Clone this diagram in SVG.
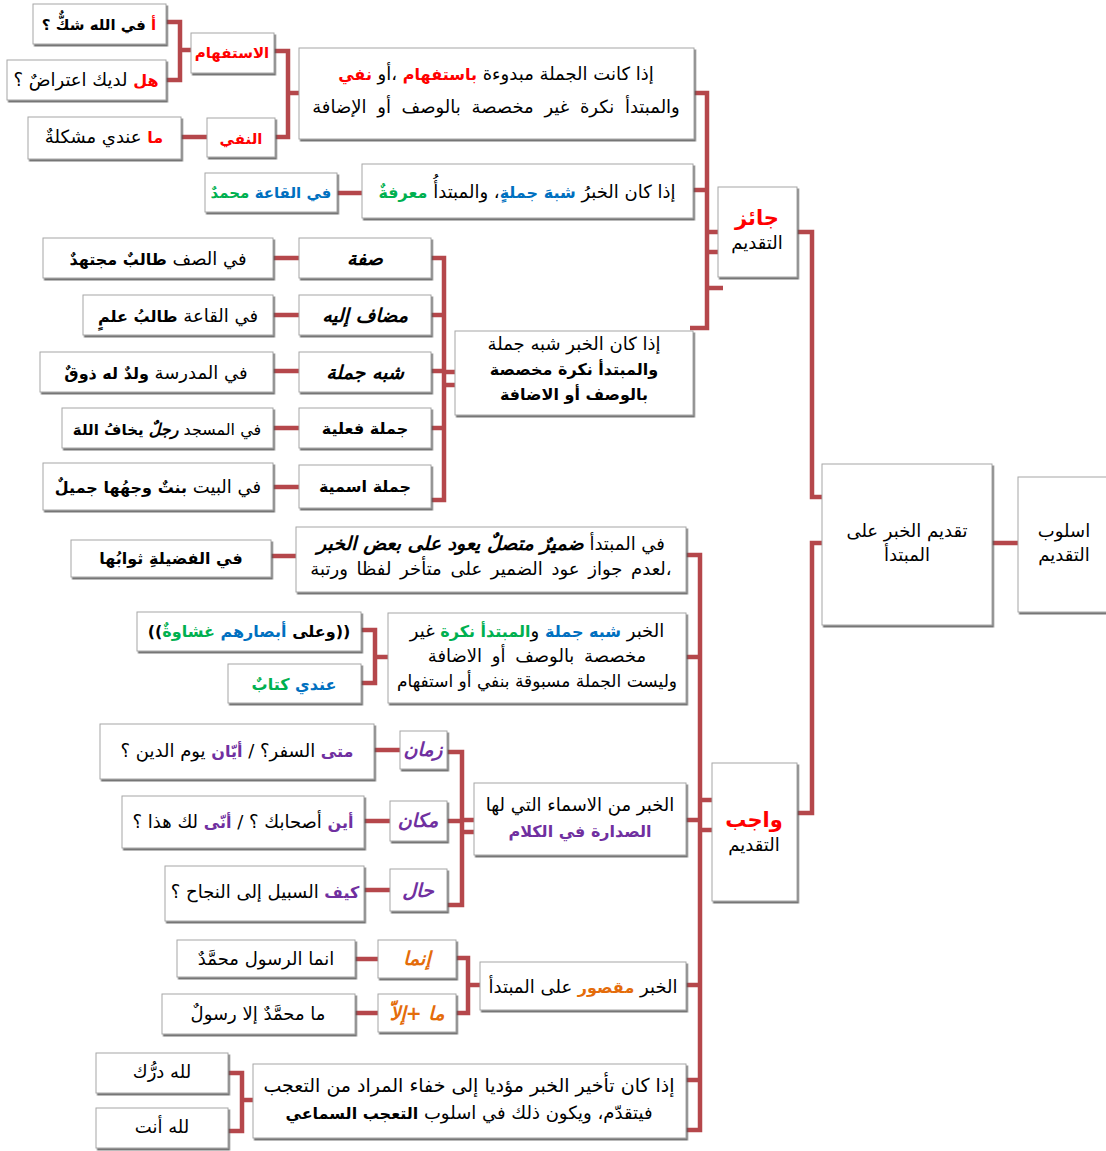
<svg xmlns="http://www.w3.org/2000/svg" width="1106" height="1151" viewBox="0 0 1106 1151">
<style>
.b{fill:#fff;stroke:#a6a6a6;stroke-width:1;filter:url(#sh)}
.t{font-family:"DejaVu Sans","Noto Sans",sans-serif;font-size:18px;fill:#000;direction:rtl;text-anchor:middle}
.bd{font-weight:bold;font-size:16px}
.it{font-style:italic;font-size:19px}
.r{fill:#ff0000}.bl{fill:#0070c0}.g{fill:#00b050}.p{fill:#7030a0}.o{fill:#e46c0a}
.c{fill:none;stroke:#b5474b;stroke-width:4.5;stroke-linejoin:miter}
</style>
<defs>
<filter id="sh" x="-5%" y="-5%" width="115%" height="120%">
<feDropShadow dx="1.5" dy="2" stdDeviation="0.6" flood-color="#555" flood-opacity="0.8"/>
</filter>
</defs>
<rect width="1106" height="1151" fill="#fff"/>

<g id="connectors">
<path class="c" d="M166,22 H180 V80 H166 M180,50 H191"/>
<path class="c" d="M181,137 H207"/>
<path class="c" d="M274,51 H288 V137 H275 M288,93 H299"/>
<path class="c" d="M694,93 H707 V328 H690 M693,190 H707 M707,232 H718 M707,252 H718 M707,288 H723"/>
<path class="c" d="M337,193 H362"/>
<path class="c" d="M273,258 H299 M273,315 H299 M273,371 H299 M273,428 H299 M273,487 H299"/>
<path class="c" d="M431,258 H444 V500 H431 M431,315 H444 M431,371 H444 M431,428 H444 M444,372 H455 M444,385 H455"/>
<path class="c" d="M797,232 H812 V497 H822 M797,813 H812 V543 H822 M992,543 H1018"/>
<path class="c" d="M686,555 H700 V1130 H686 M686,657 H700 M686,820 H700 M700,800 H712 M700,830 H712 M686,985 H700 M686,1080 H700"/>
<path class="c" d="M271,556 H296"/>
<path class="c" d="M361,630 H375 V683 H361 M375,657 H388"/>
<path class="c" d="M374,750 H400 M364,821 H390 M364,890 H390"/>
<path class="c" d="M447,752 H462 V905 H447 M447,821 H462 M462,820 H474 M462,832 H474"/>
<path class="c" d="M355,959 H378 M355,1013 H378 M456,958 H468 V1013 H456 M468,985 H480"/>
<path class="c" d="M228,1073 H242 V1131 H228 M242,1100 H253"/>
</g>

<g id="n-a"><rect class="b" x="33" y="4" width="133" height="40"/>
<text class="t bd" x="99" y="30" style="font-size:15px"><tspan class="r" style="font-size:15px">أ</tspan> في الله شكٌّ ؟</text></g>
<g id="n-hal"><rect class="b" x="7" y="60" width="159" height="40"/>
<text class="t" x="86" y="86"><tspan class="r bd">هل</tspan> لديك اعتراضٌ ؟</text></g>
<g id="n-istifham"><rect class="b" x="191" y="33" width="83" height="40"/>
<text class="t bd r" x="232" y="58" style="font-size:15px">الاستفهام</text></g>
<g id="n-nafy"><rect class="b" x="207" y="118" width="68" height="39"/>
<text class="t bd r" x="241" y="144" style="font-size:15px">النفي</text></g>
<g id="n-ma"><rect class="b" x="28" y="117" width="153" height="42"/>
<text class="t" x="104" y="143"><tspan class="r bd">ما</tspan> عندي مشكلةٌ</text></g>

<g id="n-top"><rect class="b" x="299" y="48" width="395" height="91"/>
<text class="t" x="496" y="80">إذا كانت الجملة مبدوءة <tspan class="r bd">باستفهام</tspan> ،أو <tspan class="r bd">نفي</tspan></text>
<text class="t" x="496" y="113" style="word-spacing:5px">والمبتدأ نكرة غير مخصصة بالوصف أو الإضافة</text></g>

<g id="n-maarifa"><rect class="b" x="362" y="164" width="331" height="54"/>
<text class="t" x="527" y="198">إذا كان الخبرُ <tspan class="bl bd">شبهَ جملةٍ</tspan>، والمبتدأُ <tspan class="g bd">معرفةٌ</tspan></text></g>
<g id="n-qaa"><rect class="b" x="205" y="173" width="132" height="39"/>
<text class="t bd" x="271" y="198" style="font-size:15px"><tspan class="bl">في القاعة</tspan> <tspan class="g">محمدٌ</tspan></text></g>

<g id="n-jaiz"><rect class="b" x="718" y="187" width="79" height="90"/>
<text class="t bd r" x="757" y="225" style="font-size:21px">جائز</text>
<text class="t" x="757" y="249">التقديم</text></g>

<g id="n-sifa"><rect class="b" x="299" y="238" width="132" height="40"/>
<text class="t bd it" x="365" y="265">صفة</text></g>
<g id="n-sifa-ex"><rect class="b" x="43" y="238" width="230" height="40"/>
<text class="t" x="158" y="265">في الصف <tspan class="bd">طالبٌ مجتهدٌ</tspan></text></g>
<g id="n-mudaf"><rect class="b" x="299" y="295" width="132" height="40"/>
<text class="t bd it" x="365" y="322">مضاف إليه</text></g>
<g id="n-mudaf-ex"><rect class="b" x="83" y="295" width="190" height="40"/>
<text class="t" x="178" y="322">في القاعة <tspan class="bd">طالبُ علمٍ</tspan></text></g>
<g id="n-shibh"><rect class="b" x="299" y="352" width="132" height="40"/>
<text class="t bd it" x="365" y="379">شبه جملة</text></g>
<g id="n-shibh-ex"><rect class="b" x="40" y="352" width="233" height="40"/>
<text class="t" x="156" y="379">في المدرسة <tspan class="bd">ولدٌ له ذوقٌ</tspan></text></g>
<g id="n-fiilia"><rect class="b" x="299" y="408" width="132" height="40"/>
<text class="t bd" x="365" y="434">جملة فعلية</text></g>
<g id="n-fiilia-ex"><rect class="b" x="62" y="408" width="211" height="40"/>
<text class="t" x="167" y="435" style="font-size:16px">في المسجد <tspan class="bd it" style="font-size:16px">رجلٌ</tspan> <tspan class="bd" style="font-size:15px">يخافُ اللهَ</tspan></text></g>
<g id="n-ismia"><rect class="b" x="299" y="465" width="132" height="43"/>
<text class="t bd" x="365" y="492">جملة اسمية</text></g>
<g id="n-ismia-ex"><rect class="b" x="43" y="463" width="230" height="47"/>
<text class="t" x="158" y="493">في البيت <tspan class="bd">بنتٌ وجهُها جميلٌ</tspan></text></g>

<g id="n-mukhassasa"><rect class="b" x="455" y="331" width="238" height="84"/>
<text class="t" x="574" y="350">إذا كان الخبر شبه جملة</text>
<text class="t bd" x="574" y="375">والمبتدأ نكرة مخصصة</text>
<text class="t bd" x="574" y="400">بالوصف أو الاضافة</text></g>

<g id="n-root"><rect class="b" x="822" y="464" width="170" height="161"/>
<text class="t" x="907" y="537">تقديم الخبر على</text>
<text class="t" x="907" y="561">المبتدأ</text></g>
<g id="n-uslub"><rect class="b" x="1018" y="477" width="100" height="135"/>
<text class="t" x="1064" y="537">اسلوب</text>
<text class="t" x="1064" y="561">التقديم</text></g>

<g id="n-wajib"><rect class="b" x="712" y="763" width="85" height="138"/>
<text class="t bd r" x="754" y="827" style="font-size:21px">واجب</text>
<text class="t" x="754" y="851">التقديم</text></g>

<g id="n-damir"><rect class="b" x="296" y="527" width="390" height="65"/>
<text class="t" x="491" y="550">في المبتدأ <tspan class="bd it">ضميرٌ متصلٌ يعود على بعض الخبر</tspan></text>
<text class="t" x="491" y="575" style="word-spacing:3px">،لعدم جواز عود الضمير على متأخر لفظا ورتبة</text></g>
<g id="n-fadila"><rect class="b" x="71" y="540" width="200" height="37"/>
<text class="t bd" x="171" y="564">في الفضيلةِ ثوابُها</text></g>

<g id="n-nakira"><rect class="b" x="388" y="613" width="298" height="90"/>
<text class="t" x="537" y="637">الخبر <tspan class="bl bd">شبه جملة</tspan>  و<tspan class="g bd">المبتدأ نكرة</tspan> غير</text>
<text class="t" x="537" y="662" style="word-spacing:4px">مخصصة  بالوصف أو الاضافة</text>
<text class="t" x="537" y="687" style="font-size:17px">وليست الجملة مسبوقة بنفي أو استفهام</text></g>
<g id="n-ghishawa"><rect class="b" x="137" y="612" width="224" height="39"/>
<text class="t bd" x="249" y="637">((وعلى <tspan class="bl">أبصارهم</tspan> <tspan class="g">غشاوةٌ</tspan>))</text></g>
<g id="n-kitab"><rect class="b" x="228" y="664" width="133" height="39"/>
<text class="t bd" x="294" y="690"><tspan class="bl">عندي</tspan> <tspan class="g">كتابٌ</tspan></text></g>

<g id="n-sadara"><rect class="b" x="474" y="783" width="212" height="72"/>
<text class="t" x="580" y="811">الخبر من الاسماء التي لها</text>
<text class="t bd p" x="580" y="837">الصدارة في الكلام</text></g>
<g id="n-zaman"><rect class="b" x="400" y="731" width="47" height="38"/>
<text class="t bd it p" x="423" y="756">زمان</text></g>
<g id="n-zaman-ex"><rect class="b" x="100" y="724" width="274" height="55"/>
<text class="t" x="237" y="757"><tspan class="bd p">متى</tspan> السفر؟ / <tspan class="bd p">أيّان</tspan> يوم الدين ؟</text></g>
<g id="n-makan"><rect class="b" x="390" y="801" width="57" height="40"/>
<text class="t bd it p" x="418" y="827">مكان</text></g>
<g id="n-makan-ex"><rect class="b" x="122" y="796" width="242" height="52"/>
<text class="t" x="243" y="828"><tspan class="bd p">أين</tspan> أصحابك ؟ / <tspan class="bd p">أنّى</tspan> لك هذا ؟</text></g>
<g id="n-hal2"><rect class="b" x="390" y="869" width="57" height="42"/>
<text class="t bd it p" x="418" y="897">حال</text></g>
<g id="n-hal2-ex"><rect class="b" x="165" y="866" width="199" height="55"/>
<text class="t" x="265" y="898"><tspan class="bd p">كيف</tspan> السبيل إلى النجاح ؟</text></g>

<g id="n-maqsur"><rect class="b" x="480" y="962" width="206" height="48"/>
<text class="t" x="583" y="993">الخبر <tspan class="bd o">مقصور</tspan> على المبتدأ</text></g>
<g id="n-innama"><rect class="b" x="378" y="940" width="78" height="38"/>
<text class="t bd it o" x="417" y="965">إنما</text></g>
<g id="n-innama-ex"><rect class="b" x="177" y="940" width="178" height="37"/>
<text class="t" x="266" y="965">انما الرسول محمَّدٌ</text></g>
<g id="n-maila"><rect class="b" x="378" y="994" width="78" height="38"/>
<text class="t bd it o" x="417" y="1020">ما +إلاّ</text></g>
<g id="n-maila-ex"><rect class="b" x="162" y="994" width="193" height="40"/>
<text class="t" x="258" y="1020">ما محمَّدٌ إلا رسولٌ</text></g>

<g id="n-taajjub"><rect class="b" x="253" y="1064" width="433" height="74"/>
<text class="t" x="469" y="1092" style="font-size:19px">إذا كان تأخير الخبر مؤديا إلى خفاء المراد من التعجب</text>
<text class="t" x="469" y="1119">فيتقدّم، ويكون ذلك في اسلوب <tspan class="bd">التعجب السماعي</tspan></text></g>
<g id="n-durruk"><rect class="b" x="96" y="1053" width="132" height="40"/>
<text class="t" x="162" y="1078">لله درُّك</text></g>
<g id="n-anta"><rect class="b" x="96" y="1108" width="132" height="40"/>
<text class="t" x="162" y="1133">لله أنت</text></g>
</svg>
